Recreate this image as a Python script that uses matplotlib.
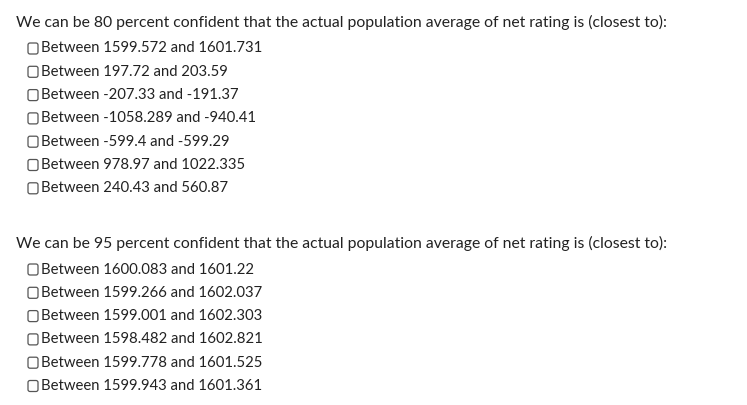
import matplotlib
matplotlib.use("Agg")
import matplotlib.pyplot as plt
from matplotlib.patches import FancyBboxPatch

W, H = 747, 405
questions = [
    "We can be 80 percent confident that the actual population average of net rating is (closest to):",
    "We can be 95 percent confident that the actual population average of net rating is (closest to):",
]
options_80 = ["Between 1599.572 and 1601.731", "Between 197.72 and 203.59",
              "Between -207.33 and -191.37", "Between -1058.289 and -940.41",
              "Between -599.4 and -599.29", "Between 978.97 and 1022.335",
              "Between 240.43 and 560.87"]
options_95 = ["Between 1600.083 and 1601.22", "Between 1599.266 and 1602.037",
              "Between 1599.001 and 1602.303", "Between 1598.482 and 1602.821",
              "Between 1599.778 and 1601.525", "Between 1599.943 and 1601.361"]

fig = plt.figure(figsize=(W/100, H/100), dpi=100)
fig.patch.set_facecolor("white")
ax = fig.add_axes([0, 0, 1, 1])
ax.set_xlim(0, W); ax.set_ylim(H, 0); ax.axis("off")

qfont = dict(family="Lato", fontsize=11.35, color="#222222", va="center")
ofont = dict(family="Lato", fontsize=10.7, color="#222222", va="center")
step = 23.3
for q, opts, y0 in [(questions[0], options_80, 22), (questions[1], options_95, 243)]:
    ax.text(16, y0, q, **qfont)
    for i, o in enumerate(opts):
        y = y0 + 26.5 + i * step
        ax.add_patch(FancyBboxPatch((28, y - 5.5), 10, 11, boxstyle="round,pad=0,rounding_size=2",
                                    fc="white", ec="#555555", lw=0.9))
        ax.text(41, y, o, **ofont)

fig.savefig("out.png", dpi=100, facecolor="white")
